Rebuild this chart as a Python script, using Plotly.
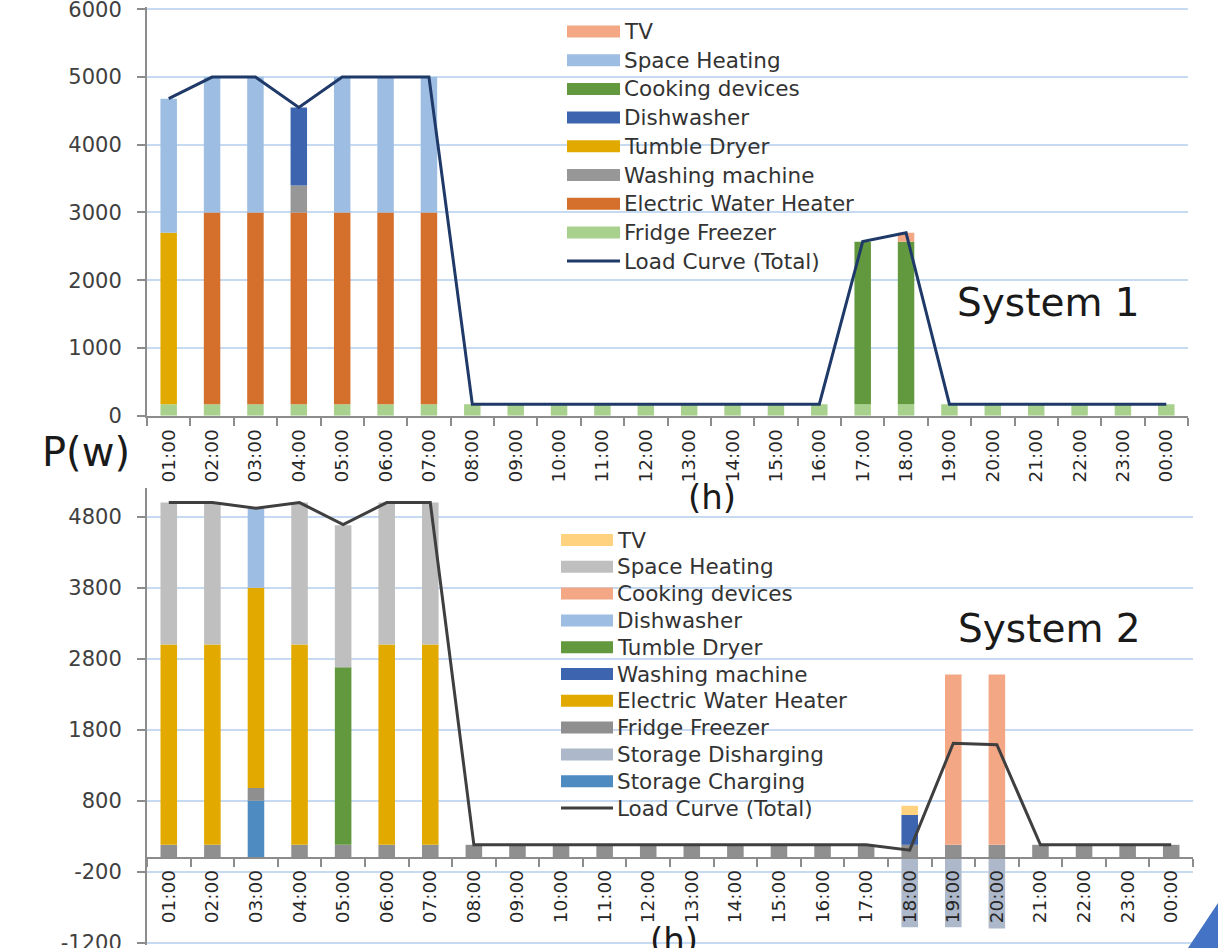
import plotly.graph_objects as go

# ---------------- data ----------------
hours = ["01:00", "02:00", "03:00", "04:00", "05:00", "06:00", "07:00", "08:00",
         "09:00", "10:00", "11:00", "12:00", "13:00", "14:00", "15:00", "16:00",
         "17:00", "18:00", "19:00", "20:00", "21:00", "22:00", "23:00", "00:00"]

# System 1 (W)
s1_fridge = [170, 170, 170, 170, 170, 170, 170, 170, 170, 170, 170, 170,
             170, 170, 170, 170, 170, 170, 170, 170, 170, 170, 170, 170]
s1_water_heater = [0, 2830, 2830, 2830, 2830, 2830, 2830, 0, 0, 0, 0, 0,
                   0, 0, 0, 0, 0, 0, 0, 0, 0, 0, 0, 0]
s1_washing = [0, 0, 0, 400, 0, 0, 0, 0, 0, 0, 0, 0,
              0, 0, 0, 0, 0, 0, 0, 0, 0, 0, 0, 0]
s1_tumble = [2530, 0, 0, 0, 0, 0, 0, 0, 0, 0, 0, 0,
             0, 0, 0, 0, 0, 0, 0, 0, 0, 0, 0, 0]
s1_dishwasher = [0, 0, 0, 1150, 0, 0, 0, 0, 0, 0, 0, 0,
                 0, 0, 0, 0, 0, 0, 0, 0, 0, 0, 0, 0]
s1_cooking = [0, 0, 0, 0, 0, 0, 0, 0, 0, 0, 0, 0,
              0, 0, 0, 0, 2400, 2400, 0, 0, 0, 0, 0, 0]
s1_space_heating = [1980, 2000, 2000, 0, 2000, 2000, 2000, 0, 0, 0, 0, 0,
                    0, 0, 0, 0, 0, 0, 0, 0, 0, 0, 0, 0]
s1_tv = [0, 0, 0, 0, 0, 0, 0, 0, 0, 0, 0, 0,
         0, 0, 0, 0, 0, 130, 0, 0, 0, 0, 0, 0]
s1_load = [4680, 5000, 5000, 4550, 5000, 5000, 5000, 170, 170, 170, 170, 170,
           170, 170, 170, 170, 2570, 2700, 170, 170, 170, 170, 170, 170]

# System 2 (W)
s2_storage_charging = [0, 0, 800, 0, 0, 0, 0, 0, 0, 0, 0, 0,
                       0, 0, 0, 0, 0, 0, 0, 0, 0, 0, 0, 0]
s2_storage_discharging = [0, 0, 0, 0, 0, 0, 0, 0, 0, 0, 0, 0,
                          0, 0, 0, 0, 0, -980, -980, -1000, 0, 0, 0, 0]
s2_fridge = [180, 180, 180, 180, 180, 180, 180, 180, 180, 180, 180, 180,
             180, 180, 180, 180, 180, 180, 180, 180, 180, 180, 180, 180]
s2_water_heater = [2820, 2820, 2820, 2820, 0, 2820, 2820, 0, 0, 0, 0, 0,
                   0, 0, 0, 0, 0, 0, 0, 0, 0, 0, 0, 0]
s2_washing = [0, 0, 0, 0, 0, 0, 0, 0, 0, 0, 0, 0,
              0, 0, 0, 0, 0, 420, 0, 0, 0, 0, 0, 0]
s2_tumble = [0, 0, 0, 0, 2500, 0, 0, 0, 0, 0, 0, 0,
             0, 0, 0, 0, 0, 0, 0, 0, 0, 0, 0, 0]
s2_dishwasher = [0, 0, 1120, 0, 0, 0, 0, 0, 0, 0, 0, 0,
                 0, 0, 0, 0, 0, 0, 0, 0, 0, 0, 0, 0]
s2_cooking = [0, 0, 0, 0, 0, 0, 0, 0, 0, 0, 0, 0,
              0, 0, 0, 0, 0, 0, 2400, 2400, 0, 0, 0, 0]
s2_space_heating = [2000, 2000, 0, 2000, 2000, 2000, 2000, 0, 0, 0, 0, 0,
                    0, 0, 0, 0, 0, 0, 0, 0, 0, 0, 0, 0]
s2_tv = [0, 0, 0, 0, 0, 0, 0, 0, 0, 0, 0, 0,
         0, 0, 0, 0, 0, 130, 0, 0, 0, 0, 0, 0]
s2_load = [5000, 5000, 4920, 5000, 4690, 5000, 5000, 180, 180, 180, 180, 180,
           180, 180, 180, 180, 180, 105, 1610, 1590, 180, 180, 180, 180]

s1_y_ticks = [0, 1000, 2000, 3000, 4000, 5000, 6000]
s2_y_ticks = [-1200, -200, 800, 1800, 2800, 3800, 4800]

# (name, values, colour) in stacking order, bottom first
s1_series = [
    ("Fridge Freezer", s1_fridge, "#A9D18E"),
    ("Electric Water Heater", s1_water_heater, "#D4702B"),
    ("Washing machine", s1_washing, "#979797"),
    ("Tumble Dryer", s1_tumble, "#E2AA00"),
    ("Dishwasher", s1_dishwasher, "#3D65AF"),
    ("Cooking devices", s1_cooking, "#62993E"),
    ("Space Heating", s1_space_heating, "#9DBDE2"),
    ("TV", s1_tv, "#F4A785"),
]
s1_line = ("Load Curve (Total)", s1_load, "#1F3A68")

s2_series = [
    ("Storage Charging", s2_storage_charging, "#4E8BC1"),
    ("Storage Disharging", s2_storage_discharging, "#ADB9CA"),
    ("Fridge Freezer", s2_fridge, "#8F8F8F"),
    ("Electric Water Heater", s2_water_heater, "#E2AA00"),
    ("Washing machine", s2_washing, "#3D65AF"),
    ("Tumble Dryer", s2_tumble, "#62993E"),
    ("Dishwasher", s2_dishwasher, "#9DBDE2"),
    ("Cooking devices", s2_cooking, "#F4A785"),
    ("Space Heating", s2_space_heating, "#BFBFBF"),
    ("TV", s2_tv, "#FFD27F"),
]
s2_line = ("Load Curve (Total)", s2_load, "#3F3F3F")

# ---------------- layout helpers ----------------
W, H = 1218, 948
FONT = "DejaVu Sans"
TXT = "#262626"


def px(x):
    return x / W


def py(y):
    return 1 - y / H


fig = go.Figure()

for name, vals, col in s1_series:
    fig.add_trace(go.Bar(x=hours, y=vals, name=name, marker=dict(color=col, line_width=0),
                         xaxis="x", yaxis="y", showlegend=False))
fig.add_trace(go.Scatter(x=hours, y=s1_line[1], name=s1_line[0], mode="lines",
                         line=dict(color=s1_line[2], width=3), xaxis="x", yaxis="y",
                         showlegend=False))

for name, vals, col in s2_series:
    fig.add_trace(go.Bar(x=hours, y=vals, name=name, marker=dict(color=col, line_width=0),
                         xaxis="x2", yaxis="y2", showlegend=False))
fig.add_trace(go.Scatter(x=hours, y=s2_line[1], name=s2_line[0], mode="lines",
                         line=dict(color=s2_line[2], width=3), xaxis="x2", yaxis="y2",
                         showlegend=False))

# pixel geometry of the two plot areas (value -> pixel)
s1_zero_px, s1_px_per_unit = 415.7, (415.7 - 9.3) / 6000
s2_zero_px, s2_px_per_unit = 857.6, (942.7 - 516.7) / 6000
y1_range = [0, 6030]
y2_range = [-1230, 5200]
y1_dom = [py(s1_zero_px - y1_range[0] * s1_px_per_unit), py(s1_zero_px - y1_range[1] * s1_px_per_unit)]
y2_dom = [py(s2_zero_px - y2_range[0] * s2_px_per_unit), py(s2_zero_px - y2_range[1] * s2_px_per_unit)]
x2_pos = py(s2_zero_px)

axis_line = "#8C8C8C"
grid = "#C6DBF2"

common_x = dict(type="category", range=[-0.5, 23.5], showline=True, linecolor=axis_line,
                linewidth=2, ticks="outside", tickson="boundaries", ticklen=8,
                tickcolor=axis_line, tickwidth=1.5, tickangle=-90, showgrid=False,
                zeroline=False, tickfont=dict(family=FONT, size=18.5, color=TXT),
                ticklabelstandoff=4, automargin=False)
common_y = dict(showline=True, linecolor=axis_line, linewidth=2, ticks="outside",
                ticklen=8, tickcolor=axis_line, tickwidth=1.5, showgrid=True,
                gridcolor=grid, gridwidth=1.5, zeroline=False,
                tickfont=dict(family=FONT, size=21, color="#404040"),
                ticklabelstandoff=11, ticklabeloverflow="allow", automargin=False)

fig.update_layout(
    width=W, height=H, margin=dict(l=0, r=0, t=0, b=0, autoexpand=False),
    paper_bgcolor="white", plot_bgcolor="white",
    barmode="relative", bargap=0.62,
    xaxis=dict(domain=[px(147), px(1188)], anchor="y", **common_x),
    yaxis=dict(domain=y1_dom, anchor="x", range=y1_range, tickvals=s1_y_ticks,
               ticktext=[str(v) for v in s1_y_ticks], **common_y),
    xaxis2=dict(domain=[px(147), px(1193)], anchor="free", position=x2_pos, **common_x),
    yaxis2=dict(domain=y2_dom, anchor="x2", range=y2_range, tickvals=s2_y_ticks,
                ticktext=[str(v) for v in s2_y_ticks], **common_y),
)

shapes = []
annotations = []
LEG_SIZE = 21.5


def add_legend(series, line, sym_x0, sym_x1, text_x, y0, dy):
    items = list(reversed(series))
    for i, (name, _, col) in enumerate(items):
        yc = y0 + i * dy
        shapes.append(dict(type="rect", xref="paper", yref="paper",
                           x0=px(sym_x0), x1=px(sym_x1), y0=py(yc + 6), y1=py(yc - 6),
                           fillcolor=col, line_width=0))
        annotations.append(dict(xref="paper", yref="paper", x=px(text_x), y=py(yc),
                                text=name, showarrow=False, xanchor="left", yanchor="middle",
                                font=dict(family=FONT, size=LEG_SIZE, color="#333333")))
    yc = y0 + len(items) * dy
    shapes.append(dict(type="line", xref="paper", yref="paper",
                       x0=px(sym_x0), x1=px(sym_x1), y0=py(yc), y1=py(yc),
                       line=dict(color=line[2], width=3)))
    annotations.append(dict(xref="paper", yref="paper", x=px(text_x), y=py(yc),
                            text=line[0], showarrow=False, xanchor="left", yanchor="middle",
                            font=dict(family=FONT, size=LEG_SIZE, color="#333333")))


add_legend(s1_series, s1_line, 567, 620, 622, 31.5, 28.7)
add_legend(s2_series, s2_line, 561, 613, 615, 540, 26.8)


def label(text, x, y, size):
    annotations.append(dict(xref="paper", yref="paper", x=px(x), y=py(y), text=text,
                            showarrow=False, xanchor="center", yanchor="middle",
                            font=dict(family=FONT, size=size, color="#1a1a1a")))


label("System 1", 1048, 303, 39)
label("System 2", 1049, 628, 39)
label("P(w)", 86, 452, 40)
label("(h)", 712, 497, 34)
label("(h)", 674, 940, 34)

# decorative corner triangle
shapes.append(dict(type="path", xref="paper", yref="paper",
                   path=f"M {px(1218)},{py(903)} L {px(1218)},{py(948)} L {px(1188)},{py(948)} Z",
                   fillcolor="#4472C4", line_width=0))

fig.update_layout(shapes=shapes, annotations=annotations)

fig.write_html("out.html", config={"displayModeBar": False},
               post_script="document.body.style.margin='0';")
